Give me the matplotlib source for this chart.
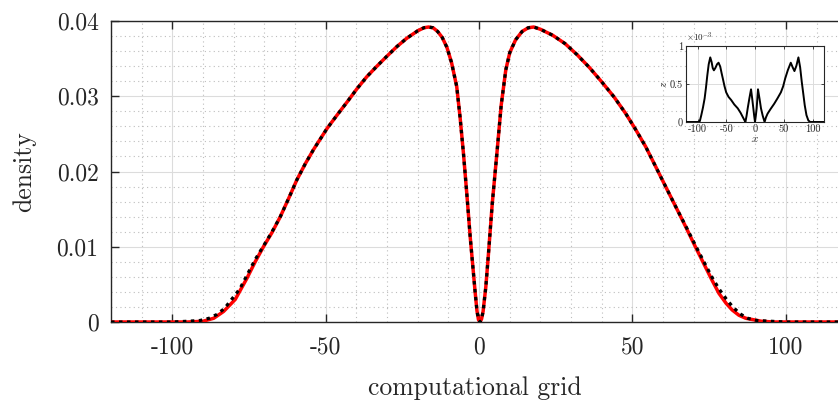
import matplotlib
matplotlib.use("Agg")
import matplotlib.pyplot as plt
from matplotlib.ticker import MultipleLocator, FixedLocator

plt.rcParams['font.family'] = 'serif'
plt.rcParams['font.serif'] = ['cmr10', 'DejaVu Serif']
plt.rcParams['mathtext.fontset'] = 'cm'
plt.rcParams['axes.unicode_minus'] = False
plt.rcParams['axes.formatter.use_mathtext'] = True

# main density (red, solid)
x_red = [-120, -100, -95, -90, -86.5, -83.3, -79.5, -75.7, -73, -70.3, -67.5, -64.8, -62, -59.4,
         -56.7, -54, -49.6, -46.3, -43.1, -39.8, -36.6, -33.3, -30.1, -26.8, -23.6, -20, -18, -16.5, -15, -13.5, -12,
         -10.5, -9, -7.3, -6.2, -5.1, -4, -2.9, -2.0, -1.3, -0.7, -0.2, 0.3, 0.8, 1.3, 2.2,
         3.0, 4.3, 5.8, 7.2, 8.7, 10, 11.9, 14, 16, 17.8, 20, 24, 28, 32, 36, 40,
         44, 47.8, 51, 54.3, 57.5, 60.8, 64, 67.3, 70.5, 73.8, 76, 78.2, 80.5, 82.5, 84.7, 86.9, 92, 96, 100, 120]
y_red = [0, 0, 0, 0.0001, 0.0005, 0.0014, 0.0030, 0.0058, 0.0080, 0.0100, 0.0119, 0.0140, 0.0165, 0.0189,
         0.0210, 0.0229, 0.0257, 0.0275, 0.0292, 0.0310, 0.0326, 0.0340, 0.0353, 0.0366, 0.0377, 0.0387, 0.0391, 0.0392, 0.0391, 0.0386, 0.0378,
         0.0365, 0.0345, 0.0313, 0.0272, 0.0224, 0.0170, 0.0113, 0.0072, 0.0040, 0.0015, 0.0003, 0.0, 0.0004, 0.0014, 0.0047,
         0.0088, 0.0158, 0.0224, 0.0288, 0.0335, 0.0358, 0.0375, 0.0386, 0.0391, 0.0392, 0.0389, 0.0381, 0.0370, 0.0355, 0.0338, 0.0319,
         0.0299, 0.0277, 0.0256, 0.0233, 0.0207, 0.0180, 0.0154, 0.0127, 0.0100, 0.0073, 0.0055, 0.0038, 0.0025, 0.0016, 0.0009, 0.0005, 0.0001, 0, 0, 0]

# main density (black, dotted)
x_blk = [-120, -100, -95, -91, -88, -85.5, -83, -80.5, -78, -75.7, -73, -70.3, -67.5, -64.8, -62, -59.4,
         -56.7, -54, -49.6, -46.3, -43.1, -39.8, -36.6, -33.3, -30.1, -26.8, -23.6, -20, -18, -16.5, -15, -13.5, -12,
         -10.5, -9, -7.3, -6.2, -5.1, -4, -2.9, -2.0, -1.3, -0.7, -0.2, 0.3, 0.8, 1.3, 2.2,
         3.0, 4.3, 5.8, 7.2, 8.7, 10, 11.9, 14, 16, 17.8, 20, 24, 28, 32, 36, 40,
         44, 47.8, 51, 54.3, 57.5, 60.8, 64, 67.3, 70.5, 73.8, 76, 78.2, 80.5, 82.5, 85, 87.5, 90.5, 95, 100, 120]
y_blk = [0, 0, 0.0001, 0.0002, 0.0005, 0.0010, 0.0018, 0.0031, 0.0044, 0.0062, 0.0083, 0.0101, 0.0120, 0.0140, 0.0165, 0.0189,
         0.0210, 0.0229, 0.0257, 0.0275, 0.0292, 0.0310, 0.0326, 0.0340, 0.0353, 0.0366, 0.0377, 0.0387, 0.0391, 0.0392, 0.0391, 0.0386, 0.0378,
         0.0365, 0.0345, 0.0313, 0.0272, 0.0224, 0.0170, 0.0113, 0.0072, 0.0040, 0.0015, 0.0003, 0.0, 0.0004, 0.0014, 0.0047,
         0.0088, 0.0158, 0.0224, 0.0288, 0.0335, 0.0358, 0.0375, 0.0386, 0.0391, 0.0392, 0.0389, 0.0381, 0.0370, 0.0355, 0.0338, 0.0319,
         0.0299, 0.0277, 0.0256, 0.0233, 0.0207, 0.0180, 0.0154, 0.0128, 0.0102, 0.0076, 0.0059, 0.0044, 0.0031, 0.0021, 0.0011, 0.0005, 0.0002, 0.0001, 0, 0]

x_ticks = [-100, -50, 0, 50, 100]
x_ticklabels = ['-100', '-50', '0', '50', '100']
y_ticks = [0, 0.01, 0.02, 0.03, 0.04]
y_ticklabels = ['0', '0.01', '0.02', '0.03', '0.04']

# inset curve
x_ins = [-120, -99, -96, -93.4, -90.5, -87.6, -85.3, -83, -80.5, -77.8, -75.5, -73.5, -71.5, -69, -66, -63.4,
         -60.5, -58, -55.9, -53, -50.1, -46, -41.5, -36, -30, -25, -21.3, -18.8, -16.7, -14.7, -12.7, -9.8, -6.9,
         -4.9, -2.9, -1.4, 0, 1.4, 2.9, 4.0, 5.2, 7.8, 10.4, 13.5, 16.7, 19, 21.9, 27, 33.4, 39, 45, 49, 52.4,
         57, 62.2, 65.5, 68.6, 72, 75.5, 78.5, 81.3, 84, 86.5, 89.5, 92.8, 96, 120]
y_ins = [0, 0, 0.01e-3, 0.09e-3, 0.19e-3, 0.31e-3, 0.45e-3, 0.61e-3, 0.76e-3, 0.85e-3, 0.79e-3, 0.71e-3, 0.68e-3, 0.71e-3, 0.76e-3, 0.78e-3,
         0.73e-3, 0.64e-3, 0.57e-3, 0.47e-3, 0.39e-3, 0.33e-3, 0.29e-3, 0.23e-3, 0.18e-3, 0.12e-3, 0.066e-3, 0.03e-3, 0, 0.08e-3, 0.18e-3, 0.31e-3, 0.43e-3,
         0.31e-3, 0.18e-3, 0.08e-3, 0, 0.08e-3, 0.18e-3, 0.30e-3, 0.43e-3, 0.31e-3, 0.18e-3, 0.08e-3, 0, 0.06e-3, 0.11e-3, 0.17e-3, 0.24e-3, 0.31e-3, 0.39e-3, 0.47e-3, 0.57e-3,
         0.68e-3, 0.78e-3, 0.72e-3, 0.67e-3, 0.74e-3, 0.85e-3, 0.72e-3, 0.53e-3, 0.37e-3, 0.22e-3, 0.09e-3, 0.02e-3, 0, 0]
x_ins_ticks = [-100, -50, 0, 50, 100]
x_ins_ticklabels = ['-100', '-50', '0', '50', '100']
y_ins_ticks = [0, 0.5e-3, 1e-3]
y_ins_ticklabels = ['0', '0.5', '1']

fig = plt.figure(figsize=(8.38, 4.01), dpi=100)
ax = fig.add_axes([111 / 838, 1 - 322 / 401, 1 - 111 / 838, (322 - 21) / 401])

ax.plot(x_red, y_red, color='#ff0000', lw=2.5, solid_capstyle='round', solid_joinstyle='round', zorder=3)
ax.plot(x_blk, y_blk, color='black', lw=2.3, dashes=(1.1, 1.4), zorder=4)

ax.set_xlim(-120, 117)
ax.set_ylim(0, 0.04)
ax.xaxis.set_major_locator(FixedLocator(x_ticks))
ax.set_xticklabels(x_ticklabels)
ax.yaxis.set_major_locator(FixedLocator(y_ticks))
ax.set_yticklabels(y_ticklabels)
ax.xaxis.set_minor_locator(MultipleLocator(10))
ax.yaxis.set_minor_locator(MultipleLocator(0.002))
ax.grid(which='major', color='#dcdcdc', lw=0.8, ls='-')
ax.grid(which='minor', color='#bdbdbd', lw=0.8, ls=(0, (1, 3)))
ax.set_axisbelow(True)
ax.tick_params(which='major', direction='in', length=6, width=1.0, top=True, right=False,
               labelsize=17, color='#262626', labelcolor='#262626')
ax.tick_params(axis='x', pad=10)
ax.tick_params(axis='y', pad=9)
ax.tick_params(which='minor', length=0)
for s in ['left', 'bottom', 'top']:
    ax.spines[s].set_color('#262626')
    ax.spines[s].set_linewidth(1.0)
ax.spines['right'].set_visible(False)
ax.set_xlabel('computational grid', fontsize=18.5, color='#262626', labelpad=13)
ax.set_ylabel('density', fontsize=18.5, color='#262626', labelpad=15)

# inset
ins = fig.add_axes([686 / 838, 1 - 122 / 401, 138 / 838, 76 / 401])
ins.set_facecolor('white')
ins.plot(x_ins, y_ins, color='black', lw=1.4, zorder=3)
ins.set_xlim(-120, 120)
ins.set_ylim(0, 1e-3)
ins.xaxis.set_major_locator(FixedLocator(x_ins_ticks))
ins.set_xticklabels(x_ins_ticklabels)
ins.yaxis.set_major_locator(FixedLocator(y_ins_ticks))
ins.set_yticklabels(y_ins_ticklabels)
ins.grid(which='major', color='#dcdcdc', lw=0.7)
ins.set_axisbelow(True)
ins.tick_params(direction='in', length=2.5, width=0.6, top=True, right=True,
                labelsize=7.5, pad=2, color='#262626', labelcolor='#262626')
for s in ins.spines.values():
    s.set_color('#262626')
    s.set_linewidth(0.8)
ins.set_xlabel(r'$x$', fontsize=8, labelpad=0, color='#262626')
ins.set_ylabel(r'$z$', fontsize=8, labelpad=1, color='#262626')
ins.text(0.0, 1.02, r'$\times10^{-3}$', transform=ins.transAxes, fontsize=6.5,
         ha='left', va='bottom', color='#262626')

fig.savefig('out.png', dpi=100, facecolor='white')
